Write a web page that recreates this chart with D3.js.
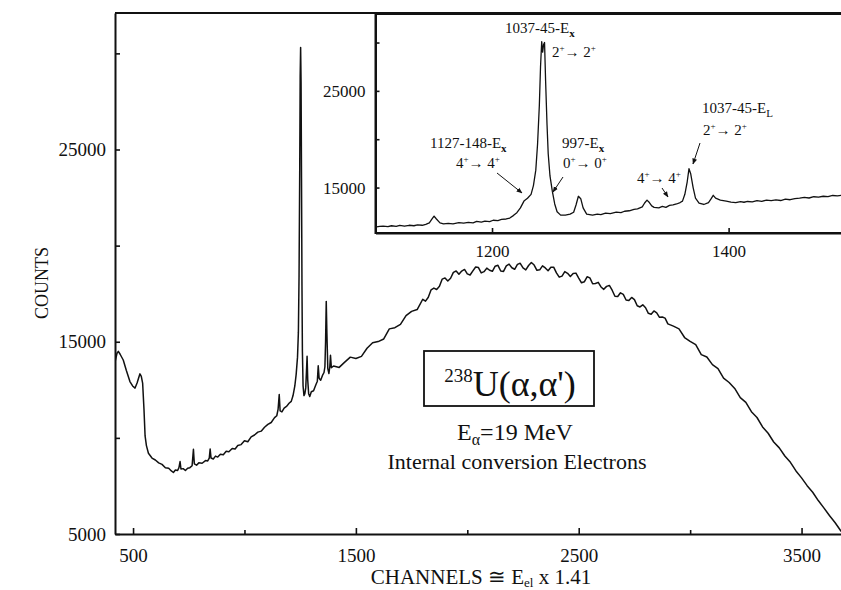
<!DOCTYPE html>
<html><head><meta charset="utf-8">
<script src="https://cdn.jsdelivr.net/npm/d3@7"></script>
<style>
body{margin:0;background:#fff}
text{font-family:"Liberation Serif","Times New Roman",serif;fill:#111}
</style>
</head><body>
<svg id="c" width="841" height="590"></svg>
<script>
// ---------------- DATA ----------------
const mainChannels = [420,428,434,442,456,470,486,498,509,518,526,531,537,543,549,554,560,569,585,600,615,630,645,660,672,681,690,700,706,711,715,725,735,745,755,765,771,775,785,795,810,825,835,842,846,850,860,870,880,892,905,918,930,945,958,970,985,1000,1015,1030,1045,1060,1075,1090,1105,1120,1135,1145,1151,1156,1160,1168,1178,1190,1200,1210,1218,1226,1232,1238,1242,1245,1248,1250,1252,1254,1256,1258,1260,1263,1267,1271,1275,1278,1281,1284,1288,1293,1300,1310,1320,1327,1331,1335,1342,1350,1357,1361,1364,1367,1370,1374,1379,1383,1386,1390,
1400,1425,1450,1475,1500,1525,1550,1575,1600,1625,1650,1675,1700,1725,1750,1775,
1800,1812.5,1825,1837.5,1850,1862.5,1875,1887.5,1900,1912.5,1925,1937.5,1950,1962.5,1975,1987.5,2000,2012.5,2025,2037.5,2050,2062.5,2075,2087.5,2100,2112.5,2125,2137.5,2150,2162.5,2175,2187.5,2200,2212.5,2225,2237.5,2250,2262.5,2275,2287.5,2300,2312.5,2325,2337.5,2350,2362.5,2375,2387.5,2400,2412.5,2425,2437.5,2450,2462.5,2475,2487.5,2500,2512.5,2525,2537.5,2550,2562.5,2575,2587.5,2600,2612.5,2625,2637.5,2650,2662.5,2675,2687.5,2700,2712.5,2725,2737.5,2750,2762.5,2775,2787.5,2800,2812.5,2825,2837.5,2850,2862.5,2875,2887.5,2900,
2925,2950,2975,3000,3025,3050,3075,3100,3125,3150,3175,3200,3225,3250,3275,3300,3325,3350,3375,3400,3425,3450,3475,3500,3525,3550,3575,3600,3625,3650,3675,3690];
const mainCounts = [14000,14400,14500,14350,14050,13500,12930,12700,12590,12850,13150,13330,13200,12850,11500,10100,9600,9200,8950,8850,8700,8620,8450,8420,8280,8200,8330,8300,8450,8770,8380,8400,8300,8420,8450,8550,9410,8650,8580,8700,8680,8820,8800,8950,9420,8950,8900,9050,9000,9150,9120,9300,9280,9450,9420,9600,9650,9850,9800,10050,10150,10300,10350,10550,10700,10800,11050,11150,11500,12250,11400,11350,11550,11650,11800,11900,12200,12700,13300,14200,15500,18500,24000,28800,30300,28500,23500,18000,14500,12700,12200,12300,12600,13400,14250,13000,12300,12150,12400,12450,12750,12950,13750,13100,13000,13250,13400,13700,15000,17100,15400,13600,13350,13700,14300,13650,
13740,13665,13940,14200,14130,14240,14660,14945,15010,15145,15670,15730,15900,16355,16580,16675,
17210,17110,17315,17700,17790,17720,17885,18260,18320,18160,18300,18610,18680,18510,18675,18760,18530,18470,18685,18890,18860,18580,18645,18830,18720,18665,18930,18975,18680,18660,18945,19040,18850,18770,19025,19080,18840,18740,18965,19120,18990,18715,18740,18950,18840,18690,18875,18880,18580,18360,18415,18650,18560,18390,18545,18570,18310,18065,18120,18380,18320,18015,18030,18090,17850,17725,17880,17930,17680,17365,17350,17545,17460,17170,17140,17305,17190,16870,16810,16920,16770,16480,16435,16600,16500,16270,16285,16230,15930,
15810,15670,15220,15020,14850,14330,14210,13810,13605,13110,12880,12570,12090,11850,11360,11060,10570,10240,9785,9480,9055,8730,8280,7920,7515,7170,6740,6360,5965,5600,5180,4950];

const insetChannels = [1101,1105,1108,1112,1115,1119,1122,1126,1130,1134,1137,1141,1144,1147,1149,1151,1153,1156,1159,1163,1167,1172,1176,1180,1184,1187,1191,1194,1198,1201,1205,1208,1212,1215,1218,1221,1224,1227,1230,1233,1235,1237,1238.5,1240,1241,1242,1242.8,1243.6,1244.4,1245.3,1246.5,1247.5,1249,1251,1253,1255,1258,1262,1266,1269,1271,1273,1275,1277,1280,1285,1289,1292,1296,1300,1305,1309,1312,1316,1320,1323,1327,1329,1331,1333,1335,1337,1341,1344,1347,1350,1353,1356,1359,1361,1363,1365,1366.5,1368,1370,1372,1375,1379,1383,1385,1387,1389,1393,1398,1402,1406,1410,1413,1416,1420,1424,1428,1432,1436,1440,1444,1448,1452,1456,1460,1464,1468,1472,1476,1480,1484,1488,1492,1497];
const insetCounts = [10900,10980,11020,10950,11050,10980,11080,11000,11100,11050,11150,11100,11200,11350,11700,12050,11750,11350,11250,11300,11250,11380,11320,11400,11350,11500,11420,11520,11480,11620,11580,11700,11750,11850,12100,12400,12900,13600,13900,14300,15200,16800,19500,23500,27500,30100,29000,29800,30000,26000,21500,18500,16200,14600,13300,12500,12150,12150,12250,12450,13200,14100,13850,12900,12250,12150,12250,12200,12350,12300,12450,12400,12550,12600,12750,12800,13000,13400,13700,13450,13100,12950,12900,13050,12950,13150,13200,13300,13450,13600,14300,15600,16950,16400,15000,13900,13400,13250,13450,13800,14200,13900,13700,13600,13500,13450,13550,13480,13560,13520,13650,13580,13700,13640,13720,13660,13800,13740,13850,13900,13980,13920,14050,14000,14100,14060,14180,14150,14220];

const mainYTicks = [5000,10000,15000,20000,25000,30000];
const mainYLabels = [5000,15000,25000];
const mainXTicks = [500,1000,1500,2000,2500,3000,3500];
const mainXLabels = [500,1500,2500,3500];
const insetYTicks = [15000,20000,25000,30000];
const insetYLabels = [15000,25000];
const insetXTicks = [1200,1400];

// ---------------- CHART ----------------
const svg = d3.select("#c");
const ink = "#111";

const M = {left:115, top:13, bottom:534, right:841};
const x = d3.scaleLinear().domain([419, 3677]).range([M.left, M.right]);
const y = d3.scaleLinear().domain([5000, 32100]).range([M.bottom, M.top]);

svg.append("clipPath").attr("id","mclip").append("rect")
  .attr("x",M.left).attr("y",M.top).attr("width",M.right-M.left+10).attr("height",M.bottom-M.top);

const mainData = d3.zip(mainChannels, mainCounts);
svg.append("path").datum(mainData)
  .attr("clip-path","url(#mclip)")
  .attr("fill","none").attr("stroke",ink).attr("stroke-width",1.5).attr("stroke-linejoin","round")
  .attr("d", d3.line().x(d=>x(d[0])).y(d=>y(d[1])));

// top border
svg.append("line").attr("x1",M.left).attr("x2",845).attr("y1",M.top).attr("y2",M.top)
  .attr("stroke",ink).attr("stroke-width",2);

const yAxis = d3.axisLeft(y).tickValues(mainYTicks).tickSizeInner(-5).tickSizeOuter(0).tickPadding(9)
  .tickFormat(d => mainYLabels.includes(d) ? String(d) : "");
const gy = svg.append("g").attr("transform",`translate(${M.left},0)`).call(yAxis);
const xAxis = d3.axisBottom(x).tickValues(mainXTicks).tickSizeInner(-6).tickSizeOuter(0).tickPadding(15)
  .tickFormat(d => mainXLabels.includes(d) ? String(d) : "");
const gx = svg.append("g").attr("transform",`translate(0,${M.bottom})`).call(xAxis);
gx.selectAll(".tick line").attr("y2", d => mainXLabels.includes(d) ? -6 : -4);

[gx, gy].forEach(g => {
  g.select(".domain").attr("stroke",ink).attr("stroke-width",2);
  g.selectAll(".tick line").attr("stroke",ink).attr("stroke-width",1.6);
  g.selectAll(".tick text").attr("font-size",19).attr("font-family","Liberation Serif").attr("fill",ink);
});

// axis titles
svg.append("text").attr("transform","translate(48,283) rotate(-90)").attr("text-anchor","middle")
  .attr("font-size",18).text("COUNTS");
const xt = svg.append("text").attr("x",481).attr("y",584).attr("text-anchor","middle").attr("font-size",21);
xt.append("tspan").text("CHANNELS \u2245 E");
xt.append("tspan").attr("font-size",13).attr("dy",3).text("el");
xt.append("tspan").attr("dy",-3).text(" x 1.41");

// reaction box
svg.append("rect").attr("x",424).attr("y",351).attr("width",170).attr("height",55)
  .attr("fill","none").attr("stroke",ink).attr("stroke-width",1.8);
const rt = svg.append("text").attr("x",510).attr("y",396).attr("text-anchor","middle");
rt.append("tspan").attr("font-size",19).attr("dy",-14).text("238");
rt.append("tspan").attr("font-size",36).attr("dy",14).text("U(\u03b1,\u03b1')");
const et = svg.append("text").attr("x",515).attr("y",440).attr("text-anchor","middle").attr("font-size",24);
et.append("tspan").text("E");
et.append("tspan").attr("font-size",16).attr("dy",5).text("\u03b1");
et.append("tspan").attr("dy",-5).text("=19 MeV");
svg.append("text").attr("x",517).attr("y",469).attr("text-anchor","middle").attr("font-size",22)
  .text("Internal conversion Electrons");

// ---------------- INSET ----------------
const I = {left:375.5, top:14, bottom:233, right:841};
const ix = d3.scaleLinear().domain([1101.5, 1495]).range([I.left, I.right]);
const iy = d3.scaleLinear().domain([10300, 32950]).range([I.bottom, I.top]);

svg.append("rect").attr("x",I.left).attr("y",I.top).attr("width",I.right-I.left+20).attr("height",I.bottom-I.top)
  .attr("fill","#fff").attr("stroke",ink).attr("stroke-width",2);
svg.append("clipPath").attr("id","iclip").append("rect")
  .attr("x",I.left).attr("y",I.top).attr("width",I.right-I.left+10).attr("height",I.bottom-I.top);

const insetData = d3.zip(insetChannels, insetCounts);
svg.append("path").datum(insetData)
  .attr("clip-path","url(#iclip)")
  .attr("fill","none").attr("stroke",ink).attr("stroke-width",1.3).attr("stroke-linejoin","round")
  .attr("d", d3.line().x(d=>ix(d[0])).y(d=>iy(d[1])));

const iyAxis = d3.axisLeft(iy).tickValues(insetYTicks).tickSizeInner(-4).tickSizeOuter(0).tickPadding(10)
  .tickFormat(d => insetYLabels.includes(d) ? String(d) : "");
const igy = svg.append("g").attr("transform",`translate(${I.left},0)`).call(iyAxis);
const ixAxis = d3.axisBottom(ix).tickValues(insetXTicks).tickSizeInner(-5).tickSizeOuter(0).tickPadding(12)
  .tickFormat(d => String(d));
const igx = svg.append("g").attr("transform",`translate(0,${I.bottom})`).call(ixAxis);
[igx, igy].forEach(g => {
  g.select(".domain").attr("stroke",ink).attr("stroke-width",2);
  g.selectAll(".tick line").attr("stroke",ink).attr("stroke-width",1.6);
  g.selectAll(".tick text").attr("font-size",17).attr("font-family","Liberation Serif").attr("fill",ink);
});

// annotations
function trans(sel, a, b){
  sel.append("tspan").text(a);
  sel.append("tspan").attr("font-size",9).attr("dy",-6).text("+");
  sel.append("tspan").attr("dy",6).text("\u2192 " + b);
  sel.append("tspan").attr("font-size",9).attr("dy",-6).text("+");
}
function lab(x0, y0, main, sub, bold){
  const t = svg.append("text").attr("x",x0).attr("y",y0).attr("font-size",15);
  t.append("tspan").text(main);
  t.append("tspan").attr("font-size",11).attr("dy",4).attr("font-weight",bold?"bold":"normal").text(sub);
  return t;
}
lab(505, 33, "1037-45-E", "x", true);
trans(svg.append("text").attr("x",552).attr("y",57).attr("font-size",15), "2", "2");
lab(430, 148, "1127-148-E", "x", true);
trans(svg.append("text").attr("x",456).attr("y",168).attr("font-size",15), "4", "4");
lab(562, 148, "997-E", "x", true);
trans(svg.append("text").attr("x",563).attr("y",168).attr("font-size",15), "0", "0");
trans(svg.append("text").attr("x",637).attr("y",183).attr("font-size",15), "4", "4");
lab(702, 113, "1037-45-E", "L", false);
trans(svg.append("text").attr("x",703).attr("y",135).attr("font-size",15), "2", "2");

svg.append("defs").append("marker").attr("id","ah").attr("viewBox","0 0 10 10").attr("refX",9).attr("refY",5)
  .attr("markerWidth",6).attr("markerHeight",6).attr("orient","auto")
  .append("path").attr("d","M0,1 L10,5 L0,9 z").attr("fill",ink);
const arrows = [[497,173,522,193],[563,177,553,192],[662,188,668,197],[700,143,693,164]];
arrows.forEach(a => svg.append("line").attr("x1",a[0]).attr("y1",a[1]).attr("x2",a[2]).attr("y2",a[3])
  .attr("stroke",ink).attr("stroke-width",1).attr("marker-end","url(#ah)"));
</script>
</body></html>
